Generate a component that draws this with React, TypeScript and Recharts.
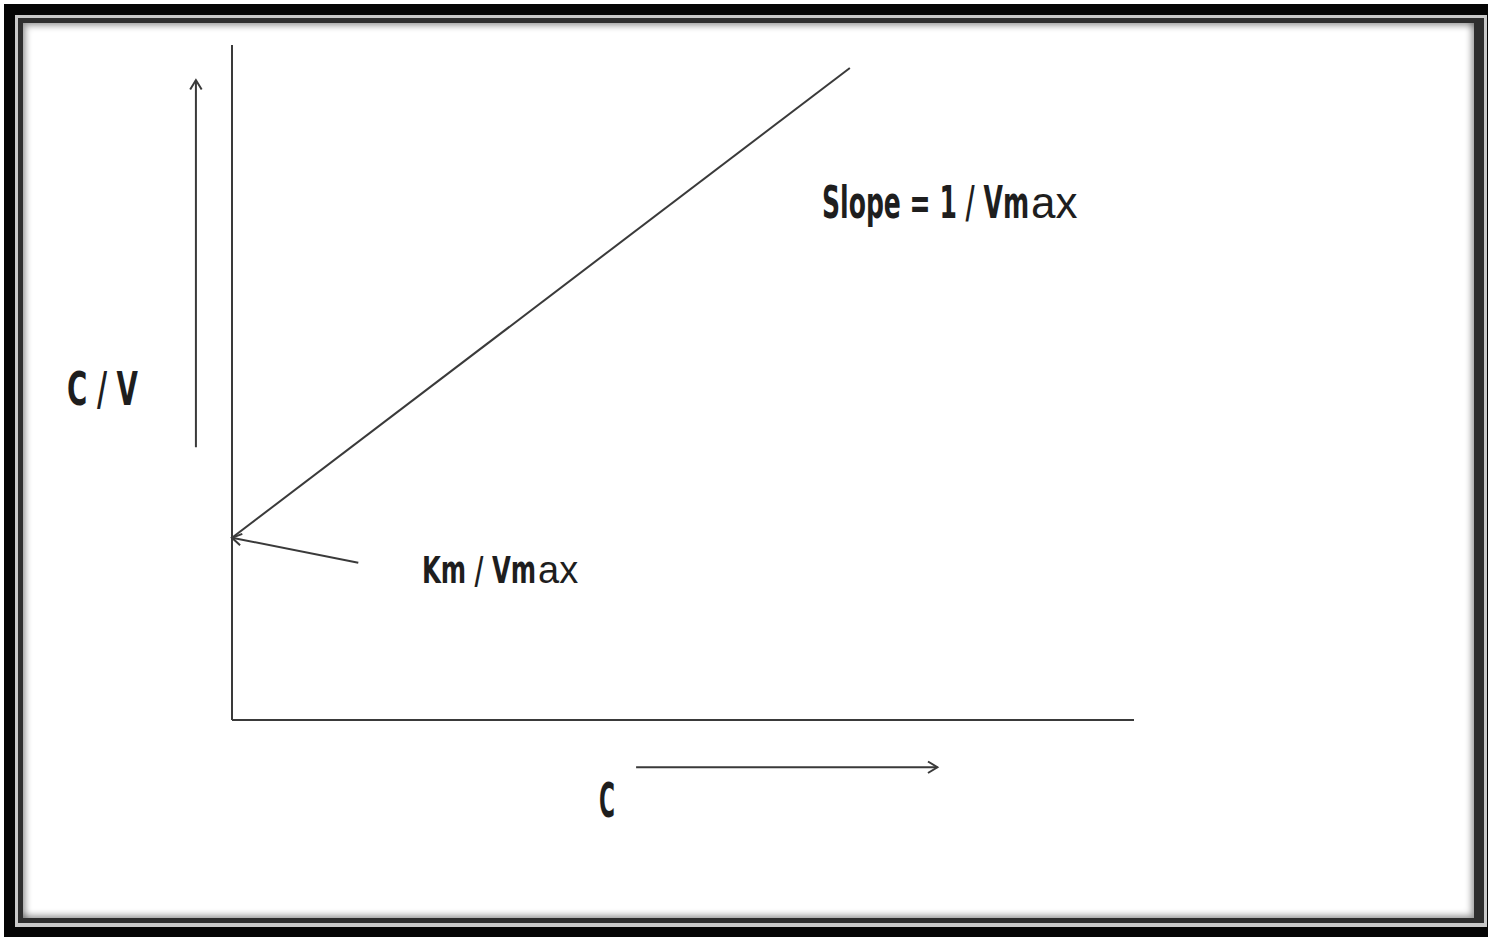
import React, { useLayoutEffect, useRef, useState } from "react";
import { LineChart, Line, XAxis, YAxis, ReferenceLine } from "recharts";

// Hanes-Woolf plot: C/V against C
const concentration = [0, 68.5];
const ratio = [27, 96.6];

// annotation arrows (in data units)
const yArrow = [{ x: -4, y: 40.4 }, { x: -4, y: 94.8 }];
const xArrow = [{ x: 44.8, y: -7 }, { x: 78.2, y: -7 }];
const kmArrow = [{ x: 14, y: 23.3 }, { x: 0, y: 27 }];

const data = concentration.map((c, i) => ({ c, r: ratio[i] }));

const INK = "#3a3a3a";

const Arrow = (props: any) => {
  const { x1, y1, x2, y2 } = props;
  const a = Math.atan2(y2 - y1, x2 - x1);
  const len = 11;
  const spread = 0.55;
  const p1x = x2 - len * Math.cos(a - spread);
  const p1y = y2 - len * Math.sin(a - spread);
  const p2x = x2 - len * Math.cos(a + spread);
  const p2y = y2 - len * Math.sin(a + spread);
  return (
    <g>
      <line x1={x1} y1={y1} x2={x2} y2={y2} stroke={INK} strokeWidth={2} />
      <path
        d={`M${p1x},${p1y} L${x2},${y2} L${p2x},${p2y}`}
        fill="none"
        stroke={INK}
        strokeWidth={2}
      />
    </g>
  );
};

// condensed bold part squeezed to the width seen in the picture, plain "ax" after it
const Label2 = ({ x, y, size, width, main, tail }: any) => {
  const ref = useRef<SVGTextElement>(null);
  const [sx, setSx] = useState(0.6);
  useLayoutEffect(() => {
    if (ref.current) {
      const w = ref.current.getComputedTextLength();
      if (w > 0) setSx(width / w);
    }
  }, [width, main, size]);
  return (
    <g fill="#1e1e1e">
      <text
        ref={ref}
        x={0}
        y={0}
        transform={`translate(${x},${y}) scale(${sx},1)`}
        fontFamily="'DejaVu Sans Condensed', 'DejaVu Sans'"
        fontWeight="bold"
        fontSize={size}
      >
        {main}
      </text>
      {tail ? (
        <text x={x + width + 2} y={y} fontFamily="'Liberation Sans', Arial" fontSize={size}>
          {tail}
        </text>
      ) : null}
    </g>
  );
};

const box = (l: number, t: number, r: number, b: number, bg: string): React.CSSProperties => ({
  position: "absolute",
  left: l,
  top: t,
  width: r - l,
  height: b - t,
  background: bg,
});

export default function App() {
  return (
    <div style={{ position: "absolute", left: 0, top: 0, width: 1488, height: 937, background: "#fff", overflow: "hidden" }}>
      <div style={box(4, 4, 1488, 937, "#050505")} />
      <div style={box(15, 15, 1487, 927, "#c9c9c9")} />
      <div style={box(18, 18, 1484, 923, "#2e2e2e")} />
      <div style={{ ...box(23, 23, 1474, 918, "#fff"), boxShadow: "inset 3px 3px 6px rgba(0,0,0,0.35), inset -3px -3px 6px rgba(0,0,0,0.35)" }} />
      <div style={{ position: "absolute", left: 0, top: 0 }}>
        <LineChart
          width={1488}
          height={937}
          data={data}
          margin={{ top: 45, right: 354, bottom: 217, left: 232 }}
        >
          <XAxis dataKey="c" type="number" domain={[0, 100]} hide />
          <YAxis type="number" domain={[0, 100]} hide />
          <ReferenceLine x={0} stroke={INK} strokeWidth={2} ifOverflow="visible" />
          <ReferenceLine y={0} stroke={INK} strokeWidth={2} ifOverflow="visible" />
          <Line
            dataKey="r"
            stroke={INK}
            strokeWidth={2}
            dot={false}
            isAnimationActive={false}
          />
          <ReferenceLine segment={yArrow} ifOverflow="visible" shape={<Arrow />} />
          <ReferenceLine segment={xArrow} ifOverflow="visible" shape={<Arrow />} />
          <ReferenceLine segment={kmArrow} ifOverflow="visible" shape={<Arrow />} />
          <Label2 x={822} y={218} size={44} width={207} main="Slope = 1 / Vm" tail="ax" />
          <Label2 x={422} y={583} size={38} width={114} main="Km / Vm" tail="ax" />
          <Label2 x={67} y={405} size={46} width={71} main="C / V" />
          <Label2 x={599} y={817} size={48} width={16} main="C" />
        </LineChart>
      </div>
    </div>
  );
}
